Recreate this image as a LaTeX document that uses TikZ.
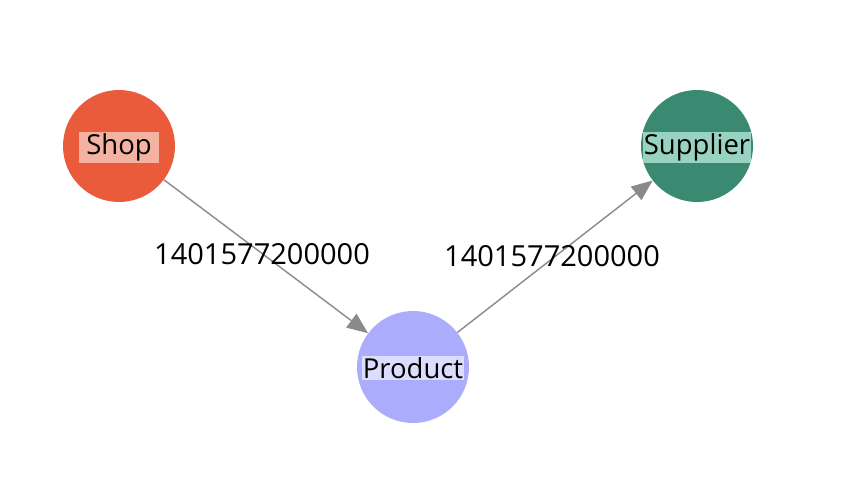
\documentclass[tikz,border=0pt]{standalone}
\usepackage{fontspec}
\setmainfont{Open Sans}
\usetikzlibrary{arrows.meta}
\definecolor{shopc}{HTML}{EA5B3C}
\definecolor{shopl}{HTML}{F4B2A0}
\definecolor{supc}{HTML}{3A8A71}
\definecolor{supl}{HTML}{98D3C1}
\definecolor{proc}{HTML}{ACACFC}
\definecolor{prol}{HTML}{DCDCFC}
\definecolor{edgec}{HTML}{8A8A8A}
\tikzset{
  vertex/.style={circle, minimum size=112pt, inner sep=0pt, draw=none},
  vlabel/.style={inner xsep=1pt, inner ysep=1.5pt, font=\fontsize{27.5}{30}\selectfont, text=black},
  edge/.style={draw=edgec, line width=1.4pt, -{Triangle[length=21pt,width=17pt]}},
  elabel/.style={font=\fontsize{29}{32}\selectfont, text=black, inner sep=0pt}
}
\begin{document}
\begin{tikzpicture}[x=1pt,y=-1pt]
\useasboundingbox (0,0) rectangle (859,488);
\node[vertex, fill=shopc] (shop) at (119,146) {};
\node[vertex, fill=supc] (sup) at (697,146) {};
\node[vertex, fill=proc] (pro) at (413,367) {};
\draw[edge] (shop) -- node[elabel, xshift=-4pt, yshift=2pt] (l1) {1401577200000} (pro);
\draw[edge] (pro) -- node[elabel, xshift=-3pt] (l2) {1401577200000} (sup);
\node[vlabel, fill=shopl, minimum width=80pt, yshift=-1.5pt] (shopt) at (shop) {Shop};
\node[vlabel, fill=supl, yshift=-1.5pt] (supt) at (sup) {Supplier};
\node[vlabel, fill=prol, yshift=-1pt] (prot) at (pro) {Product};
\end{tikzpicture}
\end{document}
